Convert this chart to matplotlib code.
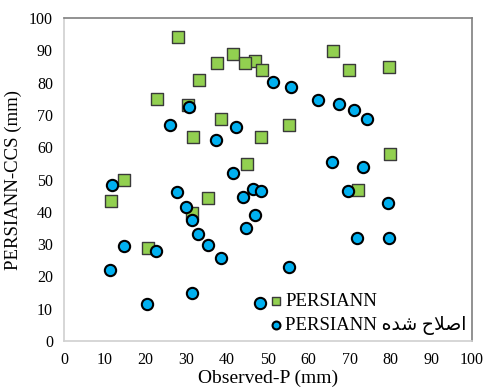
import matplotlib
matplotlib.use('Agg')
import matplotlib.pyplot as plt

# PERSIANN (green squares)
sq_x = [28, 37.5, 41.4, 46.8, 44.4, 48.5, 33.1, 22.8, 30.4, 38.5, 31.6, 48.3,
        44.9, 14.7, 11.5, 35.3, 65.9, 69.9, 79.7, 55.1, 79.9, 72.1, 31.4, 20.6]
sq_y = [94, 86.1, 88.9, 86.8, 86.1, 83.9, 80.8, 74.9, 73.1, 68.7, 63.1, 63.1,
        54.8, 49.8, 43.4, 44.2, 89.8, 83.9, 84.8, 66.9, 57.9, 46.7, 39.6, 28.8]

# corrected PERSIANN (blue circles)
ci_x = [51.2, 30.6, 26.0, 42.2, 37.3, 41.4, 11.8, 27.6, 46.3, 48.3, 44.0, 55.6,
        62.3, 67.4, 71.1, 74.3, 65.7, 73.2, 69.6, 29.9, 31.4, 46.8, 44.6, 32.8,
        14.7, 22.5, 35.3, 38.5, 11.3, 31.4, 20.3, 48.0, 79.4, 71.8, 79.7, 55.1]
ci_y = [80.2, 72.4, 66.9, 66.3, 62.2, 51.9, 48.4, 46.2, 47.1, 46.5, 44.7, 78.7,
        74.7, 73.5, 71.5, 68.6, 55.5, 54.0, 46.5, 41.5, 37.5, 39.0, 35.0, 33.1,
        29.4, 27.9, 29.7, 25.7, 22.0, 14.9, 11.5, 11.8, 42.7, 31.9, 31.9, 22.9]

ticks = list(range(0, 101, 10))

# Arabic "اصلاح شده" in shaped presentation forms, visual order
arabic = '\ufee9\ufeaa\ufeb7 \ufea1\ufefc\ufebb\ufe8d'

plt.rcParams['font.family'] = ['Liberation Serif', 'DejaVu Sans']

fig = plt.figure(figsize=(4.85, 3.9), dpi=100)
ax = fig.add_axes([0.132, 0.1256, 0.841, 0.828])

ax.scatter(sq_x, sq_y, marker='s', s=85, c='#92D050', edgecolors='#3a3a3a',
           linewidths=1.0, label='PERSIANN', zorder=3)
ax.scatter(ci_x, ci_y, marker='o', s=66, c='#00B0F0', edgecolors='black',
           linewidths=1.5, label='PERSIANN ' + arabic, zorder=4)

ax.set_xlim(0, 100)
ax.set_ylim(0, 100)
ax.set_xticks(ticks)
ax.set_yticks(ticks)
ax.tick_params(length=0, labelsize=11.5, pad=8)
ax.set_xlabel('Observed-P (mm)', fontsize=14, labelpad=1)
ax.set_ylabel('PERSIANN-CCS (mm)', fontsize=13.5, labelpad=5)

for s in ['left', 'bottom']:
    ax.spines[s].set_color('#d0d0d0')
for s in ['top', 'right']:
    ax.spines[s].set_color('#7f7f7f')
for s in ax.spines.values():
    s.set_linewidth(1.2)

leg = ax.legend(loc='lower right', frameon=False, fontsize=13.5,
                handletextpad=0.0, handlelength=1.0, borderaxespad=0.0,
                labelspacing=0.35, markerscale=0.7,
                bbox_to_anchor=(1.005, -0.005))
leg.set_zorder(10)

fig.savefig('out.png', dpi=100)
